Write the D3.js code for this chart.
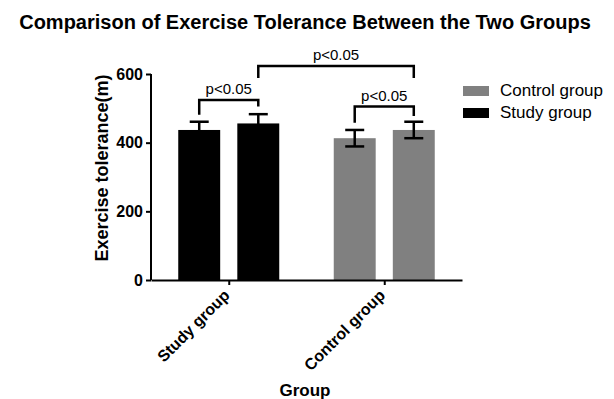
<!DOCTYPE html>
<html lang="en">
<head>
  <meta charset="UTF-8">
  <title>Exercise Tolerance</title>
  <script src="https://d3js.org/d3.v7.min.js"></script>
  <style>
    body {
      margin: 0;
      padding: 0;
      background-color: #fff;
      font-family: Arial, "Liberation Sans", sans-serif;
    }
    svg {
      display: block;
    }
  </style>
</head>
<body>
  <svg id="chart"></svg>
  <script>
// data
const groups = ["Study group", "Control group"];
const timepoints = ["Before", "After"];
const studyMeans = [437, 456];
const studySD = [24, 27];
const controlMeans = [413, 437];
const controlSD = [24, 24];
const yTicks = [0, 200, 400, 600];
const legendLabels = ["Control group", "Study group"];

// significance brackets: [group, timepoint] pairs, bar top and leg ends in data units
const brackets = [
  { a: ["Study group", "Before"], b: ["Study group", "After"], top: 524, legA: 481, legB: 505, label: "p<0.05" },
  { a: ["Study group", "After"], b: ["Control group", "After"], top: 623, legA: 588, legB: 588, label: "p<0.05" },
  { a: ["Control group", "Before"], b: ["Control group", "After"], top: 505, legA: 458, legB: 478, label: "p<0.05" }
];

const width = 614;
const height = 399;
const colors = { "Study group": "#000000", "Control group": "#808080" };

const rows = [];
groups.forEach((g, gi) => {
  const means = gi === 0 ? studyMeans : controlMeans;
  const sds = gi === 0 ? studySD : controlSD;
  timepoints.forEach((t, ti) => {
    rows.push({ group: g, time: t, mean: means[ti], sd: sds[ti] });
  });
});

const svg = d3.select("#chart")
  .attr("width", width)
  .attr("height", height);

const x = d3.scalePoint()
  .domain(groups)
  .range([151, 462])
  .padding(0.5);

const xSub = d3.scaleBand()
  .domain(timepoints)
  .range([-50.5, 50.5])
  .paddingInner(0.29);

const y = d3.scaleLinear()
  .domain([0, 600])
  .range([280, 74]);

const barX = (g, t) => x(g) + xSub(t);
const barMid = (g, t) => barX(g, t) + xSub.bandwidth() / 2;

// title
svg.append("text")
  .attr("x", 305)
  .attr("y", 29)
  .attr("text-anchor", "middle")
  .style("font-size", "20px")
  .style("font-weight", "bold")
  .text("Comparison of Exercise Tolerance Between the Two Groups");

// bars
svg.selectAll("rect.bar")
  .data(rows)
  .enter()
  .append("rect")
  .attr("class", "bar")
  .attr("x", d => barX(d.group, d.time))
  .attr("y", d => y(d.mean))
  .attr("width", xSub.bandwidth())
  .attr("height", d => y(0) - y(d.mean))
  .attr("fill", d => colors[d.group]);

// error bars (black, drawn over the bars)
const capW = 9.5;
const err = svg.append("g")
  .attr("stroke", "#000")
  .attr("stroke-width", 2.5);
rows.forEach(d => {
  const cx = barMid(d.group, d.time);
  err.append("line")
    .attr("x1", cx).attr("x2", cx)
    .attr("y1", y(d.mean + d.sd)).attr("y2", y(d.mean - d.sd));
  err.append("line")
    .attr("x1", cx - capW).attr("x2", cx + capW)
    .attr("y1", y(d.mean + d.sd)).attr("y2", y(d.mean + d.sd));
  err.append("line")
    .attr("x1", cx - capW).attr("x2", cx + capW)
    .attr("y1", y(d.mean - d.sd)).attr("y2", y(d.mean - d.sd));
});

// axes
const yAxis = svg.append("g")
  .attr("transform", "translate(151,0)")
  .call(d3.axisLeft(y).tickValues(yTicks).tickSize(5).tickPadding(3));

const xAxis = svg.append("g")
  .attr("transform", "translate(0,280)")
  .call(d3.axisBottom(x).tickSize(5).tickSizeOuter(0).tickPadding(4));

[yAxis, xAxis].forEach(ax => {
  ax.select(".domain").attr("stroke", "#000").attr("stroke-width", 2);
  ax.selectAll(".tick line").attr("stroke", "#000").attr("stroke-width", 2);
  ax.selectAll(".tick text")
    .attr("fill", "#000")
    .style("font-family", "Arial, 'Liberation Sans', sans-serif")
    .style("font-size", "16px")
    .style("font-weight", "bold");
});
yAxis.select(".domain").attr("d", "M0,280V74");

xAxis.selectAll(".tick text")
  .attr("text-anchor", "end")
  .attr("dy", "0.35em")
  .attr("transform", "translate(-9,6) rotate(-45)");

// axis titles
svg.append("text")
  .attr("transform", "translate(108,168) rotate(-90)")
  .attr("text-anchor", "middle")
  .style("font-size", "18px")
  .style("font-weight", "bold")
  .text("Exercise tolerance(m)");

svg.append("text")
  .attr("x", 305)
  .attr("y", 396)
  .attr("text-anchor", "middle")
  .style("font-size", "17px")
  .style("font-weight", "bold")
  .text("Group");

// significance brackets
const br = svg.append("g");
brackets.forEach(b => {
  const xa = barMid(b.a[0], b.a[1]);
  const xb = barMid(b.b[0], b.b[1]);
  br.append("path")
    .attr("d", `M${xa},${y(b.legA)}V${y(b.top)}H${xb}V${y(b.legB)}`)
    .attr("fill", "none")
    .attr("stroke", "#000")
    .attr("stroke-width", 2.5);
  br.append("text")
    .attr("x", (xa + xb) / 2)
    .attr("y", y(b.top) - 6)
    .attr("text-anchor", "middle")
    .style("font-size", "15px")
    .text(b.label);
});

// legend
const legend = svg.append("g").attr("transform", "translate(463,86)");
legendLabels.forEach((name, i) => {
  const row = legend.append("g").attr("transform", `translate(0,${i * 22})`);
  row.append("rect")
    .attr("width", 26)
    .attr("height", 10)
    .attr("fill", colors[name]);
  row.append("text")
    .attr("x", 37)
    .attr("y", 10)
    .style("font-size", "17px")
    .text(name);
});
  </script>
</body>
</html>
